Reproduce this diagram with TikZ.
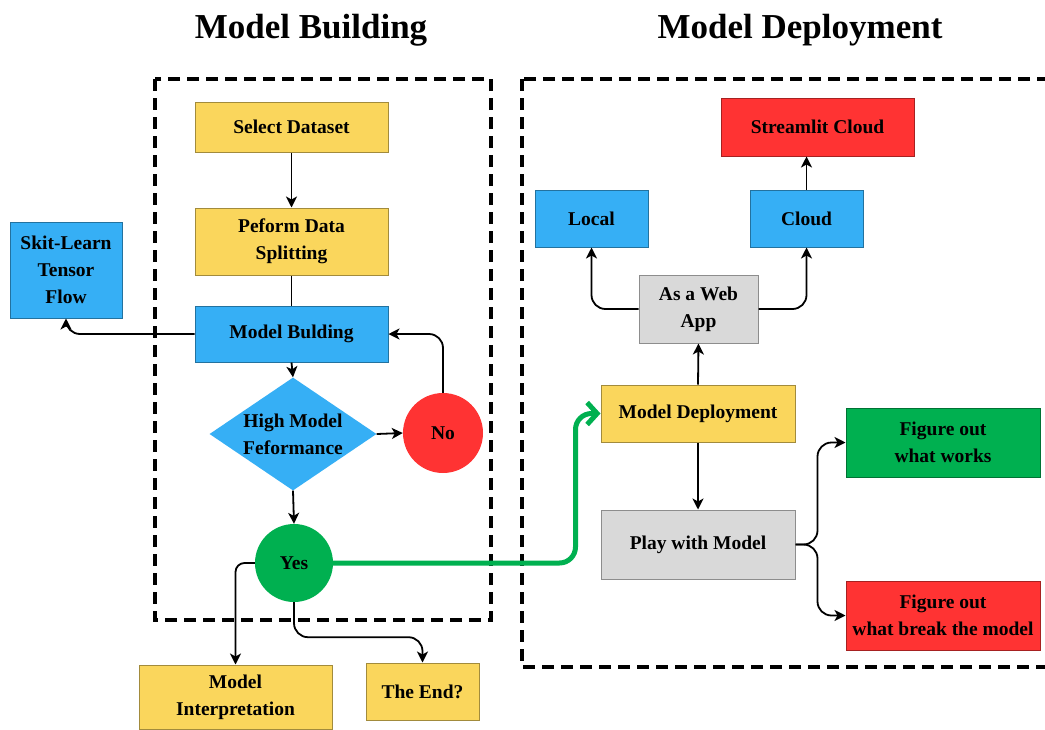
\documentclass[tikz,border=0pt]{standalone}
\usepackage{fontspec}
\setmainfont{Liberation Serif}
\usetikzlibrary{shapes.geometric,arrows.meta}
\definecolor{cyel}{HTML}{FAD65C}
\definecolor{cblue}{HTML}{36AFF5}
\definecolor{cred}{HTML}{FF3333}
\definecolor{cgreen}{HTML}{00B050}
\definecolor{cgray}{HTML}{D9D9D9}
\tikzset{
  bx/.style={rectangle, draw=#1!65!black, fill=#1, line width=1pt, inner sep=0pt, align=center,
    font=\bfseries\fontsize{19.5}{27}\selectfont},
  rnd/.style={circle, fill=#1, inner sep=0pt, font=\bfseries\fontsize{19.5}{27}\selectfont},
  arr/.style={line width=1.8pt, -{Stealth[length=11pt,width=11pt,inset=3pt]}, rounded corners=14pt},
  garr/.style={line width=5pt, draw=cgreen, -{Straight Barb[length=10pt,width=22pt]}, rounded corners=16pt},
  frame/.style={line width=4pt, dash pattern=on 12pt off 7pt},
  ttl/.style={font=\bfseries\fontsize{35}{40}\selectfont},
}
\begin{document}
\begin{tikzpicture}[x=1pt,y=-1pt]
\useasboundingbox (0,0) rectangle (1045,729);
% titles
\node[ttl] (t1) at (311,30) {Model Building};
\node[ttl] (t2) at (800,30) {Model Deployment};
% frames
\draw[frame] (155,79) rectangle (491,620);
\draw[frame] (522,79) rectangle (1062,667);
% left side nodes
\node[bx=cyel, minimum width=193pt, minimum height=50pt] (sel) at (291.5,127) {Select Dataset};
\node[bx=cyel, minimum width=193pt, minimum height=67pt] (split) at (291.5,241.5) {Peform Data\\Splitting};
\node[bx=cblue, minimum width=193pt, minimum height=56pt] (mb) at (291.5,334) {Model Bulding};
\node[bx=cblue, minimum width=112pt, minimum height=96pt] (sk) at (66,270) {Skit-Learn\\Tensor\\Flow};
\node[diamond, fill=cblue, inner sep=0pt, minimum width=167pt, minimum height=113pt, aspect=1.48,
  label={[align=center, font=\bfseries\fontsize{19.5}{27}\selectfont]center:High Model\\Feformance}] (dia) at (293,434) {};
\node[rnd=cred, minimum size=80pt] (no) at (443,433) {No};
\node[rnd=cgreen, minimum size=78pt] (yes) at (294,563) {Yes};
\node[bx=cyel, minimum width=193pt, minimum height=64pt] (mi) at (235.5,697) {Model\\Interpretation};
\node[bx=cyel, minimum width=113pt, minimum height=57pt] (end) at (422.5,691.5) {The End?};
% right side nodes
\node[bx=cred, minimum width=193pt, minimum height=58pt] (stream) at (817.5,127) {Streamlit Cloud};
\node[bx=cblue, minimum width=113pt, minimum height=57pt] (local) at (591.5,218.5) {Local};
\node[bx=cblue, minimum width=113pt, minimum height=57pt] (cloud) at (806.5,218.5) {Cloud};
\node[bx=cgray, minimum width=119pt, minimum height=68pt] (web) at (698.5,309) {As a Web\\App};
\node[bx=cyel, minimum width=194pt, minimum height=57pt] (md) at (698,413.5) {Model Deployment};
\node[bx=cgray, minimum width=194pt, minimum height=69pt] (play) at (698,544.5) {Play with Model};
\node[bx=cgreen, minimum width=194pt, minimum height=69pt] (works) at (943,442.5) {Figure out\\what works};
\node[bx=cred, minimum width=194pt, minimum height=69pt] (brk) at (943,615.5) {Figure out\\what break the model};
% connectors left
\draw[arr] (sel) -- (split);
\draw[line width=1.8pt] (split) -- (mb);
\draw[arr] (mb.south) -- (dia.north);
\draw[arr] (mb.west) -| (sk.south);
\draw[arr] (dia.east) -- (no.west);
\draw[arr] (no.north) |- (mb.east);
\draw[arr] (dia.south) -- (yes.north);
\draw[arr, rounded corners=9pt] (yes.west) -| (mi.north);
\draw[arr] (yes.south) -- ++(0,35) -| (end.north);
\draw[garr] (yes.east) -| ([xshift=-25pt]md.west) -- (md.west);
% connectors right
\draw[arr] (md.north) -- (web.south);
\draw[arr] (web.west) -| (local.south);
\draw[arr] (web.east) -| (cloud.south);
\draw[arr] (cloud.north) -- (cloud.north |- stream.south);
\draw[arr] (md.south) -- (play.north);
\draw[arr] (play.east) -- ++(22,0) |- (works.west);
\draw[arr] (play.east) -- ++(22,0) |- (brk.west);
\end{tikzpicture}
\end{document}
